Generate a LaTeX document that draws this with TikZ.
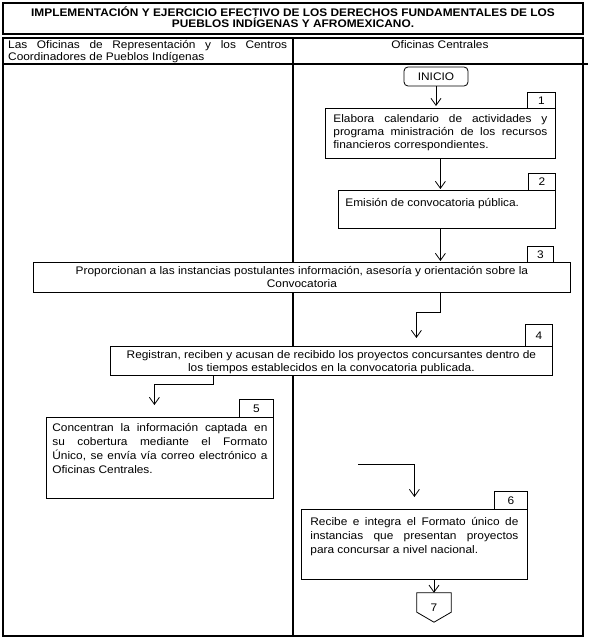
\documentclass[tikz,border=0pt]{standalone}
\usepackage{fontspec}
\setmainfont{Liberation Sans}[FakeStretch=1.08]
\usetikzlibrary{arrows.meta,calc}
\newcommand\boxtxt[4]{\parbox[c][#1pt][t]{#2pt}{\vspace*{#3pt}\strut#4}}
\begin{document}
\begin{tikzpicture}[x=1pt,y=-1pt,
  frame/.style={line width=1.2pt},
  box/.style={draw, fill=white, line width=0.8pt, anchor=north west, inner ysep=0pt, font=\fontsize{11}{13}\selectfont},
  numbox/.style={draw, fill=white, line width=0.8pt, anchor=north west, inner sep=0pt, font=\fontsize{11}{13}\selectfont},
  arr/.style={line width=0.8pt, -{Straight Barb[length=7pt,width=10pt]}},
  plain/.style={line width=0.8pt}]
\useasboundingbox (0,0) rectangle (590,644);
% title
\draw[frame] (3,3) rectangle (583,34);
\node[inner sep=0pt, align=center, font=\bfseries\fontsize{11}{11}\selectfont] (title) at (293,17)
  {IMPLEMENTACIÓN Y EJERCICIO EFECTIVO DE LOS DERECHOS FUNDAMENTALES DE LOS\\PUEBLOS INDÍGENAS Y AFROMEXICANO.};
% table
\draw[frame] (3,38) rectangle (583,636);
\draw[frame] (3,64) -- (588,64);
\draw[frame] (293,38) -- (293,636);
\node[anchor=north west, inner xsep=5pt, inner ysep=0pt, font=\fontsize{11}{12}\selectfont] (hleft) at (3,38)
  {\boxtxt{26}{279}{1.6}{Las Oficinas de Representación y los Centros\linebreak Coordinadores de Pueblos Indígenas}};
\node[font=\fontsize{11}{12}\selectfont] (hright) at (440,44.5) {Oficinas Centrales};
% start
\node[draw, plain, rounded corners=4pt, minimum width=64pt, minimum height=19pt, inner sep=0pt,
  font=\fontsize{11}{13}\selectfont] (inicio) at (436,76.5) {INICIO};
% step 1
\node[box, inner xsep=8pt] (b1) at (325,108)
  {\boxtxt{50}{214}{5}{Elabora calendario de actividades y\linebreak programa ministración de los recursos\linebreak financieros correspondientes.}};
\node[numbox, minimum width=28pt, minimum height=16pt] (n1) at (527,92) {1};
% step 2
\node[box, inner xsep=7pt] (b2) at (338,190)
  {\boxtxt{38}{203}{6.6}{Emisión de convocatoria pública.}};
\node[numbox, minimum width=27pt, minimum height=17pt] (n2) at (528,173) {2};
% step 3
\node[box, inner xsep=5pt] (b3) at (33,262)
  {\boxtxt{30}{527}{2.6}{\centering Proporcionan a las instancias postulantes información, asesoría y orientación sobre la\\ Convocatoria}};
\node[numbox, minimum width=26pt, minimum height=16pt] (n3) at (527,246) {3};
% step 4
\node[box, inner xsep=5pt] (b4) at (110,346)
  {\boxtxt{29}{432}{2.6}{\centering Registran, reciben y acusan de recibido los proyectos concursantes dentro de\\ los tiempos establecidos en la convocatoria publicada.}};
\node[numbox, minimum width=27pt, minimum height=22pt] (n4) at (525,324) {4};
% step 5
\node[box, inner xsep=6pt] (b5) at (46,417)
  {\boxtxt{81}{215}{5.2}{\fontsize{11}{14}\selectfont Concentran la información captada en\linebreak su cobertura mediante el Formato\linebreak Único, se envía vía correo electrónico a\linebreak Oficinas Centrales.}};
\node[numbox, minimum width=34pt, minimum height=18pt] (n5) at (239,399) {5};
% step 6
\node[box, inner xsep=9pt] (b6) at (301,509)
  {\boxtxt{70}{208}{7.2}{\fontsize{11}{14}\selectfont Recibe e integra el Formato único de\linebreak instancias que presentan proyectos\linebreak para concursar a nivel nacional.}};
\node[numbox, minimum width=33pt, minimum height=18pt] (n6) at (494,491) {6};
% off-page connector 7
\node[minimum width=34pt, minimum height=23pt, inner sep=0pt, font=\fontsize{11}{13}\selectfont,
  text depth=0pt, yshift=3pt] (c7) at (434,610.5) {7};
\draw[plain] ([yshift=3pt]c7.north west) -- ([yshift=3pt]c7.north east) -- ($(c7.south east)+(0,-7)$)
  -- ([yshift=-3pt]c7.south) -- ($(c7.south west)+(0,-7)$) -- cycle;
% connectors
\draw[arr, shorten >=2pt] (inicio.south) -- (inicio.south |- b1.north);
\draw[arr, shorten >=1pt] (b1.south) -- (b1.south |- b2.north);
\draw[arr, shorten >=1pt] (b1.south |- b2.south) -- (b1.south |- b3.north);
\draw[arr, shorten >=8pt] (b1.south |- b3.south) -- ++(0,20) -- ++(-24,0) coordinate (k34) -- (k34 |- b4.north);
\draw[arr, shorten >=12pt] ([xshift=103pt]b4.south west) -- ++(0,9) -| ([xshift=-5.5pt]b5.north);
\coordinate (f6) at (358,464);
\draw[arr, shorten >=12pt] (f6) -| (b6.north);
\draw[arr] (c7.north |- b6.south) -- ([yshift=3pt]c7.north);
\end{tikzpicture}
\end{document}
